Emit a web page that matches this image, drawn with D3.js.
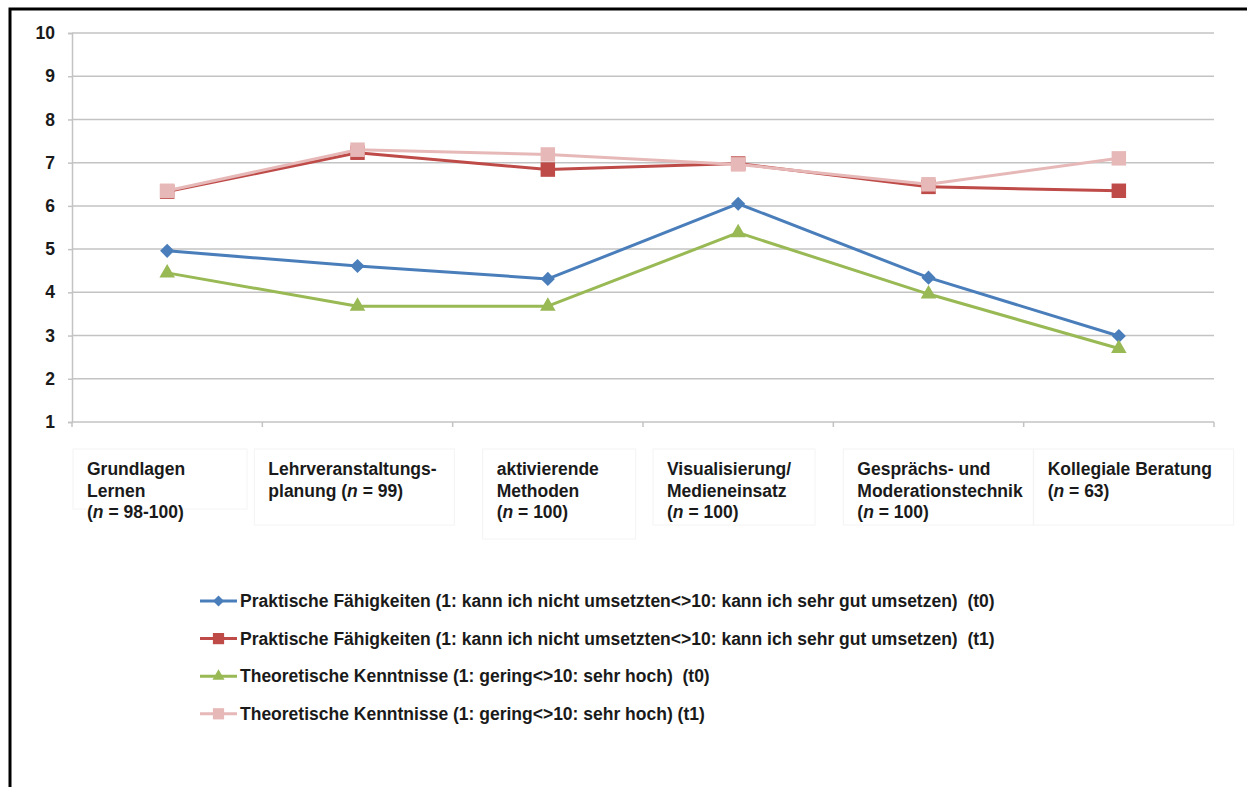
<!DOCTYPE html>
<html>
<head>
<meta charset="utf-8">
<script src="https://cdn.jsdelivr.net/npm/d3@7"></script>
<style>
  body { margin: 0; background: #fff; }
  text { font-family: "Liberation Sans", Arial, sans-serif; font-weight: bold; fill: #1a1a1a; }
</style>
</head>
<body>
<div id="vis"></div>
<script>

var width = 1247,
  height = 787

// Data
var categories = [ 'Grundlagen Lernen', 'Lehrveranstaltungsplanung', 'aktivierende Methoden',
  'Visualisierung/Medieneinsatz', 'Gesprächs- und Moderationstechnik', 'Kollegiale Beratung' ];

var categoryLabels = [
  [ 'Grundlagen', 'Lernen', '(n = 98-100)' ],
  [ 'Lehrveranstaltungs-', 'planung (n = 99)' ],
  [ 'aktivierende', 'Methoden', '(n = 100)' ],
  [ 'Visualisierung/', 'Medieneinsatz', '(n = 100)' ],
  [ 'Gesprächs- und', 'Moderationstechnik', '(n = 100)' ],
  [ 'Kollegiale Beratung', '(n = 63)' ]
];

var praktischT0 = [ 4.96, 4.61, 4.31, 6.05, 4.34, 2.99 ];
var praktischT1 = [ 6.33, 7.23, 6.84, 6.98, 6.44, 6.35 ];
var theoretischT0 = [ 4.45, 3.68, 3.68, 5.38, 3.96, 2.70 ];
var theoretischT1 = [ 6.35, 7.30, 7.19, 6.96, 6.50, 7.10 ];

var seriesNames = [
  'Praktische Fähigkeiten (1: kann ich nicht umsetzten<>10: kann ich sehr gut umsetzen)  (t0)',
  'Praktische Fähigkeiten (1: kann ich nicht umsetzten<>10: kann ich sehr gut umsetzen)  (t1)',
  'Theoretische Kenntnisse (1: gering<>10: sehr hoch)  (t0)',
  'Theoretische Kenntnisse (1: gering<>10: sehr hoch) (t1)'
];

var yTicks = [ 1, 2, 3, 4, 5, 6, 7, 8, 9, 10 ];

var series = [
  { name: seriesNames[ 0 ], values: praktischT0, color: '#4a7ebb', symbol: d3.symbolSquare, size: 100, rotate: 45 },
  { name: seriesNames[ 1 ], values: praktischT1, color: '#be4b48', symbol: d3.symbolSquare, size: 210, rotate: 0 },
  { name: seriesNames[ 2 ], values: theoretischT0, color: '#98b954', symbol: d3.symbolTriangle, size: 105, rotate: 0 },
  { name: seriesNames[ 3 ], values: theoretischT1, color: '#e6b9b8', symbol: d3.symbolSquare, size: 210, rotate: 0 }
];

/* Scales */

var plotLeft = 72,
  plotRight = 1214,
  plotTop = 33,
  plotBottom = 422;

var x = d3.scaleBand()
  .domain( categories )
  .range( [ plotLeft, plotRight ] );

var y = d3.scaleLinear()
  .domain( [ 1, 10 ] )
  .range( [ plotBottom, plotTop ] );

/* Drawing */

var svg = d3.select( '#vis' ).append( 'svg' )
  .attr( 'width', width )
  .attr( 'height', height );

// frame
svg.append( 'path' )
  .attr( 'd', 'M10,' + ( height + 2 ) + 'V9H' + ( width + 2 ) )
  .attr( 'fill', 'none' )
  .attr( 'stroke', '#000' )
  .attr( 'stroke-width', 3 );

// gridlines
svg.append( 'g' )
  .selectAll( 'line' )
  .data( yTicks.slice( 1 ) )
  .enter().append( 'line' )
    .attr( 'x1', plotLeft )
    .attr( 'x2', plotRight )
    .attr( 'y1', d => y( d ) )
    .attr( 'y2', d => y( d ) )
    .attr( 'stroke', '#c3c3c3' )
    .attr( 'stroke-width', 1.5 );

// y axis
var yAxis = svg.append( 'g' )
  .attr( 'transform', 'translate(' + plotLeft + ',0)' )
  .call( d3.axisLeft( y ).tickValues( yTicks ).tickSize( 4 ).tickPadding( 13 ) );

yAxis.select( '.domain' ).attr( 'stroke', '#c3c3c3' ).attr( 'stroke-width', 1.5 );
yAxis.selectAll( '.tick line' ).attr( 'stroke', '#c3c3c3' ).attr( 'stroke-width', 1.5 );
yAxis.selectAll( '.tick text' )
  .attr( 'fill', '#1a1a1a' )
  .style( 'font-size', '17.5px' )
  .style( 'font-family', '"Liberation Sans", Arial, sans-serif' )
  .style( 'font-weight', 'bold' );

// x axis
svg.append( 'line' )
  .attr( 'x1', plotLeft )
  .attr( 'x2', plotRight )
  .attr( 'y1', plotBottom )
  .attr( 'y2', plotBottom )
  .attr( 'stroke', '#c3c3c3' )
  .attr( 'stroke-width', 1.5 );

svg.append( 'g' )
  .selectAll( 'line' )
  .data( categories.concat( [ null ] ) )
  .enter().append( 'line' )
    .attr( 'x1', ( d, i ) => plotLeft + i * x.bandwidth() )
    .attr( 'x2', ( d, i ) => plotLeft + i * x.bandwidth() )
    .attr( 'y1', plotBottom )
    .attr( 'y2', plotBottom + 5 )
    .attr( 'stroke', '#c3c3c3' )
    .attr( 'stroke-width', 1.5 );

// category label boxes (text frames)
var labelOffsets = [ 15, 6, 44, 24, 24, 24 ];
var boxWidths = [ 174, 200, 153, 162, 190, 200 ];
var boxHeights = [ 60, 76, 90, 76, 76, 76 ];

var labels = svg.append( 'g' )
  .selectAll( 'g' )
  .data( categories )
  .enter().append( 'g' )
    .attr( 'transform', ( d, i ) => 'translate(' + ( x( d ) + labelOffsets[ i ] ) + ',449)' );

labels.append( 'rect' )
  .attr( 'x', -14 )
  .attr( 'y', 0 )
  .attr( 'width', ( d, i ) => boxWidths[ i ] )
  .attr( 'height', ( d, i ) => boxHeights[ i ] )
  .attr( 'fill', 'none' )
  .attr( 'stroke', '#f4f4f4' );

labels.each( function( d, i ) {
  var t = d3.select( this ).append( 'text' )
    .style( 'font-size', '17.5px' );
  categoryLabels[ i ].forEach( ( line, j ) => {
    var parts = line.split( /\bn\b/ );
    t.append( 'tspan' )
      .attr( 'x', 0 )
      .attr( 'y', 26 + j * 21.5 )
      .text( parts[ 0 ] );
    if ( parts.length > 1 ) {
      t.append( 'tspan' ).style( 'font-style', 'italic' ).text( 'n' );
      t.append( 'tspan' ).text( parts[ 1 ] );
    }
  } );
} );

// lines and markers
var line = d3.line()
  .x( ( d, i ) => x( categories[ i ] ) + x.bandwidth() / 2 )
  .y( d => y( d ) );

series.forEach( s => {
  var g = svg.append( 'g' );
  g.append( 'path' )
    .datum( s.values )
    .attr( 'd', line )
    .attr( 'fill', 'none' )
    .attr( 'stroke', s.color )
    .attr( 'stroke-width', 3 )
    .attr( 'stroke-linejoin', 'round' );
  g.selectAll( 'path.marker' )
    .data( s.values )
    .enter().append( 'path' )
      .attr( 'class', 'marker' )
      .attr( 'd', d3.symbol().type( s.symbol ).size( s.size ) )
      .attr( 'transform', ( d, i ) => 'translate(' + ( x( categories[ i ] ) + x.bandwidth() / 2 ) + ',' + y( d ) + ')rotate(' + s.rotate + ')' )
      .attr( 'fill', s.color );
} );

// legend
var legend = svg.append( 'g' )
  .selectAll( 'g' )
  .data( series )
  .enter().append( 'g' )
    .attr( 'transform', ( d, i ) => 'translate(200,' + ( 601 + i * 37.6 ) + ')' );

legend.append( 'line' )
  .attr( 'x1', 0 )
  .attr( 'x2', 37 )
  .attr( 'stroke', d => d.color )
  .attr( 'stroke-width', 3 );

legend.append( 'path' )
  .attr( 'd', d => d3.symbol().type( d.symbol ).size( d.size * 0.6 )() )
  .attr( 'transform', d => 'translate(18.5,0)rotate(' + d.rotate + ')' )
  .attr( 'fill', d => d.color );

legend.append( 'text' )
  .attr( 'x', 40 )
  .attr( 'dy', '0.35em' )
  .style( 'font-size', '17.5px' )
  .style( 'white-space', 'pre' )
  .text( d => d.name );

</script>
</body>
</html>
